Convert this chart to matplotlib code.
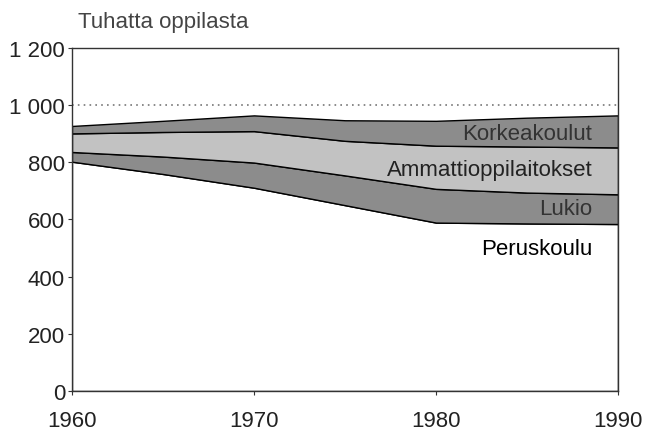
import matplotlib.pyplot as plt

plt.rcParams['font.family'] = ['Liberation Sans', 'DejaVu Sans']

# Oppilasmäärät (tuhatta) vuosittain, luettu kuvasta
years = [1960, 1965, 1970, 1975, 1980, 1985, 1990]
peruskoulu = [802, 759, 711, 650, 589, 586, 584]
lukio = [34, 61, 88, 104, 118, 108, 104]
ammatti = [65, 86, 110, 121, 151, 161, 164]
korkea = [26, 39, 55, 72, 87, 101, 112]

labels = ['Peruskoulu', 'Lukio', 'Ammattioppilaitokset', 'Korkeakoulut']
colors = ['white', '#8c8c8c', '#c2c2c2', '#8c8c8c']

fig = plt.figure(figsize=(6.45, 4.31), dpi=100)
ax = fig.add_axes([0.1116, 0.0905, 0.8465, 0.796])

ax.stackplot(years, peruskoulu, lukio, ammatti, korkea,
             colors=colors, edgecolor='black', linewidth=1.0)

ax.axhline(1000, color='#777777', linestyle=(0, (1, 2.5)), linewidth=1.2)

ax.set_xlim(1960, 1990)
ax.set_ylim(0, 1200)
ax.set_xticks([1960, 1970, 1980, 1990])
ax.set_yticks(range(0, 1201, 200))
ax.set_yticklabels(['0', '200', '400', '600', '800', '1 000', '1 200'])
ax.tick_params(labelsize=16, length=3, color='#333333', labelcolor='#222222')
ax.tick_params(axis='x', pad=11)
ax.tick_params(axis='y', pad=2)
for s in ax.spines.values():
    s.set_color('#333333')
    s.set_linewidth(1.0)

# Sarjojen nimet oikeaan reunaan
ax.text(1988.6, 880, 'Korkeakoulut', ha='right', va='baseline', fontsize=16, color='#333333')
ax.text(1988.6, 757, 'Ammattioppilaitokset', ha='right', va='baseline', fontsize=16, color='#222222')
ax.text(1988.6, 619, 'Lukio', ha='right', va='baseline', fontsize=16, color='#333333')
ax.text(1988.6, 479, 'Peruskoulu', ha='right', va='baseline', fontsize=16, color='black')

fig.text(0.121, 0.934, 'Tuhatta oppilasta', ha='left', va='baseline', fontsize=16, color='#444444')

fig.savefig('out.png', dpi=100)
